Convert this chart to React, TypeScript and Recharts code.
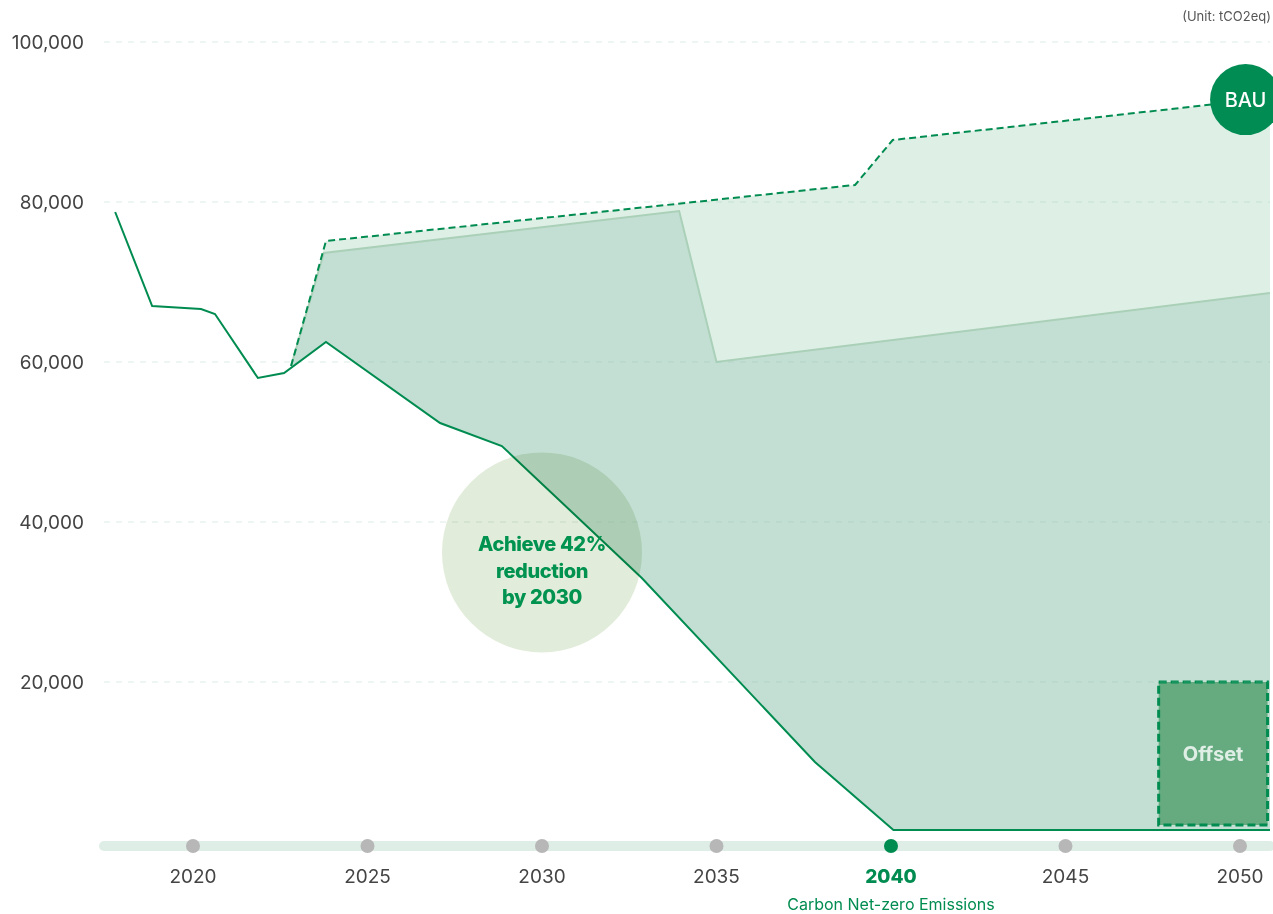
import {
  ComposedChart, Area, Line, XAxis, YAxis, ReferenceLine, ReferenceDot, ReferenceArea,
} from "recharts";

const green = "#008c50";
const lightFill = "#deefe6";
const darkFill = "#c3dfd3";

// emissions path (actual + reduction pathway)
const pathYears = [2017.77, 2018.83, 2020.23, 2020.63, 2021.86, 2022.61, 2023.81, 2027.08, 2028.85, 2032.86, 2037.82, 2040.07, 2050.86];
const pathValues = [78750, 67000, 66625, 66000, 58000, 58625, 62500, 52375, 49500, 33000, 10000, 1500, 1500];

// BAU scenario (dashed)
const bauYears = [2022.81, 2023.81, 2038.97, 2040.05, 2050.86];
const bauValues = [59500, 75125, 82125, 87750, 93000];

// upper edge of the reduction band
const bandYears = [2022.81, 2023.75, 2033.93, 2035.0, 2050.86];
const bandValues = [59500, 73625, 78875, 60000, 68625];

const xTicks = [2020, 2025, 2030, 2035, 2040, 2045, 2050];
const yTicks = [20000, 40000, 60000, 80000, 100000];
const highlightYear = 2040;

const offsetYears = [2047.67, 2050.79];
const offsetValues = [2125, 20000];

const achievePoint = { year: 2030, value: 36200 };
const bauPoint = { year: 2050.16, value: 92800 };

const toRows = (years: number[], values: number[]) =>
  years.map((year, i) => ({ year, value: values[i] }));

const pathData = toRows(pathYears, pathValues);
const bauData = toRows(bauYears, bauValues);
const bandData = toRows(bandYears, bandValues);

const XTick = (props: any) => {
  const { x, y, payload } = props;
  const hl = payload.value === highlightYear;
  return (
    <g>
      <circle cx={x} cy={y} r={7} fill={hl ? green : "#b7b7b7"} />
      <text
        x={x}
        y={y + 37}
        textAnchor="middle"
        fontSize={19}
        fontWeight={hl ? 800 : 400}
        fill={hl ? green : "#444"}
      >
        {payload.value}
      </text>
      {hl && (
        <text x={x} y={y + 64} textAnchor="middle" fontSize={16} fill={green}>
          Carbon Net-zero Emissions
        </text>
      )}
    </g>
  );
};

const AchieveBubble = (props: any) => {
  const { cx, cy } = props;
  return (
    <g>
      <circle cx={cx} cy={cy} r={100} fill="#e2ecdb" style={{ mixBlendMode: "multiply" }} />
      <g textAnchor="middle" fontSize={20} fontWeight={800} fill="#00924f" letterSpacing={-0.4}>
        <text x={cx} y={cy - 1}>Achieve 42%</text>
        <text x={cx} y={cy + 26}>reduction</text>
        <text x={cx} y={cy + 52}>by 2030</text>
      </g>
    </g>
  );
};

const BauBubble = (props: any) => {
  const { cx, cy } = props;
  return (
    <g>
      <circle cx={cx} cy={cy} r={35.5} fill="#008c53" />
      <text x={cx} y={cy + 7} textAnchor="middle" fontSize={20} fontWeight={500} fill="#fff">
        BAU
      </text>
    </g>
  );
};

export default function App() {
  return (
    <div style={{ position: "relative", width: 1273, height: 914, fontFamily: "Inter, 'Noto Sans', sans-serif" }}>
      <style>{"body{margin:0}"}</style>
      <div
        style={{
          position: "absolute", right: 2, top: 8, fontSize: 13, lineHeight: "16px", color: "#555",
        }}
      >
        (Unit: tCO2eq)
      </div>
      <ComposedChart width={1273} height={914} margin={{ top: 42, right: 3, bottom: 0, left: 0 }}>
        <XAxis
          type="number"
          dataKey="year"
          domain={[2017.45, 2050.86]}
          allowDataOverflow
          ticks={xTicks}
          interval={0}
          height={68}
          tickSize={0}
          tickMargin={0}
          tickLine={false}
          axisLine={{ stroke: "#deeee6", strokeWidth: 10, strokeLinecap: "round" }}
          tick={<XTick />}
        />
        <YAxis
          type="number"
          domain={[-500, 100000]}
          allowDataOverflow
          ticks={yTicks}
          width={104}
          tickSize={0}
          tickMargin={20}
          tickLine={false}
          axisLine={false}
          tick={{ fontSize: 19, fill: "#444" }}
          tickFormatter={(v: number) => v.toLocaleString("en-US")}
        />

        <Area
          data={bauData}
          dataKey="value"
          type="linear"
          fill={lightFill}
          fillOpacity={1}
          stroke="none"
          isAnimationActive={false}
          dot={false}
          activeDot={false}
        />
        <Area
          data={bandData}
          dataKey="value"
          type="linear"
          fill={darkFill}
          fillOpacity={1}
          stroke="#aad0b8"
          strokeWidth={2}
          isAnimationActive={false}
          dot={false}
          activeDot={false}
        />
        <Area
          data={pathData}
          dataKey="value"
          type="linear"
          fill="#ffffff"
          fillOpacity={1}
          stroke="none"
          isAnimationActive={false}
          dot={false}
          activeDot={false}
        />

        {yTicks.map((v) => (
          <ReferenceLine key={v} y={v} stroke="#8fc4ab" strokeOpacity={0.3} strokeDasharray="6 6" />
        ))}

        <Line
          data={bauData}
          dataKey="value"
          type="linear"
          stroke={green}
          strokeWidth={2}
          strokeDasharray="7 4"
          dot={false}
          activeDot={false}
          isAnimationActive={false}
        />
        <Line
          data={pathData}
          dataKey="value"
          type="linear"
          stroke={green}
          strokeWidth={2}
          dot={false}
          activeDot={false}
          isAnimationActive={false}
        />

        <ReferenceArea
          x1={offsetYears[0]}
          x2={offsetYears[1]}
          y1={offsetValues[0]}
          y2={offsetValues[1]}
          fill="#66aa80"
          fillOpacity={1}
          stroke={green}
          strokeWidth={3}
          strokeDasharray="8 4"
          label={{ value: "Offset", position: "center", fill: "#e0efe6", fontSize: 20, fontWeight: 700 }}
        />

        <ReferenceDot
          x={achievePoint.year}
          y={achievePoint.value}
          r={100}
          shape={(p: any) => <AchieveBubble {...p} />}
        />
        <ReferenceDot
          x={bauPoint.year}
          y={bauPoint.value}
          r={35.5}
          shape={(p: any) => <BauBubble {...p} />}
        />
      </ComposedChart>
    </div>
  );
}
